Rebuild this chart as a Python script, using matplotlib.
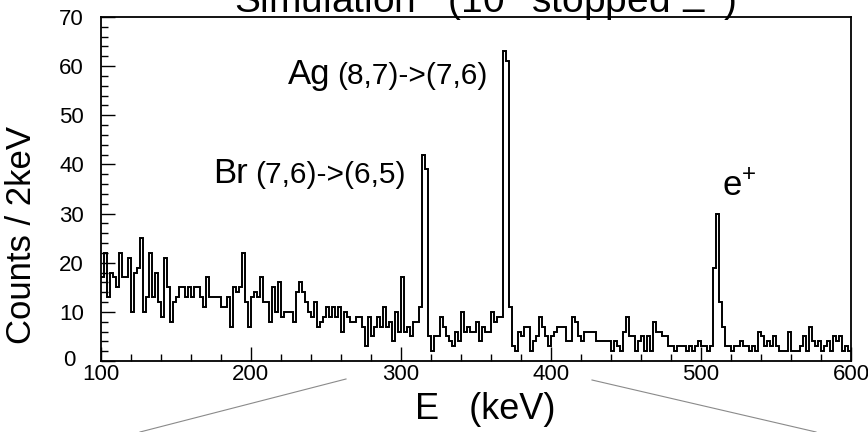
import numpy as np
import matplotlib
matplotlib.use('Agg')
import matplotlib.pyplot as plt
from matplotlib.lines import Line2D
from matplotlib.ticker import MultipleLocator
import matplotlib.transforms as mtransforms

# histogram: 2 keV bins from 100 to 600 keV
bin_lo = 100
bin_width = 2
counts = [
    17, 22, 13, 18, 17, 15, 22, 17, 17, 21,
    10, 18, 19, 25, 10, 13, 22, 13, 18, 12,
    9, 21, 15, 8, 12, 13, 15, 15, 13, 15,
    13, 15, 15, 13, 11, 17, 13, 13, 13, 13,
    11, 11, 13, 7, 15, 14, 15, 22, 12, 7,
    13, 14, 13, 17, 12, 12, 8, 15, 10, 16,
    9, 10, 10, 10, 8, 14, 16, 14, 12, 10,
    9, 12, 7, 8, 9, 11, 9, 11, 9, 11,
    6, 10, 9, 8, 8, 9, 9, 7, 3, 9,
    5, 7, 9, 7, 11, 7, 8, 4, 10, 6,
    17, 6, 7, 5, 8, 8, 11, 42, 39, 5,
    2, 5, 5, 9, 7, 5, 4, 3, 6, 4,
    10, 6, 7, 6, 6, 8, 4, 7, 6, 6,
    10, 8, 9, 9, 63, 61, 11, 3, 2, 6,
    5, 7, 7, 2, 4, 5, 9, 7, 5, 3,
    5, 6, 7, 7, 7, 4, 4, 9, 8, 5,
    4, 6, 6, 6, 6, 4, 4, 4, 4, 4,
    2, 4, 3, 2, 6, 9, 5, 5, 2, 4,
    5, 2, 5, 2, 8, 6, 6, 5, 5, 3,
    3, 2, 3, 3, 3, 2, 3, 2, 3, 4,
    3, 3, 2, 3, 19, 30, 12, 7, 3, 3,
    2, 3, 3, 4, 3, 3, 2, 3, 2, 6,
    5, 3, 4, 3, 5, 3, 2, 2, 2, 6,
    2, 2, 2, 3, 5, 2, 7, 4, 3, 4,
    2, 3, 4, 2, 5, 4, 5, 2, 3, 2,
]
edges = bin_lo + bin_width * np.arange(len(counts) + 1)

title = r'Simulation   (10$^{4}$ stopped $\Xi^{-}$)'
xlabel = 'E   (keV)'
ylabel = 'Counts / 2keV'

plt.rcParams['font.family'] = ['Liberation Sans', 'DejaVu Sans']
plt.rcParams['mathtext.fontset'] = 'custom'
plt.rcParams['mathtext.rm'] = 'Liberation Sans'
plt.rcParams['mathtext.it'] = 'Liberation Sans'

W, H = 868, 432
fig = plt.figure(figsize=(W / 100, H / 100), dpi=100)
ax = fig.add_axes([100.5 / W, 1 - 361 / H, 750.5 / W, 344 / H])

ax.stairs(counts, edges, color='black', lw=1.4, baseline=None)

ax.set_xlim(100, 600)
ax.set_ylim(0, 70)
ax.xaxis.set_major_locator(MultipleLocator(100))
ax.xaxis.set_minor_locator(MultipleLocator(20))
ax.yaxis.set_major_locator(MultipleLocator(10))
ax.yaxis.set_minor_locator(MultipleLocator(2))
ax.tick_params(which='both', direction='in', top=False, right=False, width=1.0,
               labelsize=16)
ax.tick_params(which='major', length=10)
ax.tick_params(which='minor', length=5)
ax.tick_params(axis='x', pad=2)
ax.tick_params(axis='y', pad=12)
for s in ax.spines.values():
    s.set_linewidth(1.3)

# nudge the "0" of the y axis away from the "100" below it
fig.canvas.draw()
zero_lab = ax.get_yticklabels()[0]
for lab in ax.get_yticklabels():
    if lab.get_text() == '0':
        zero_lab = lab
zero_lab.set_transform(zero_lab.get_transform() +
                       mtransforms.ScaledTranslation(-8 / 100, 3 / 100, fig.dpi_scale_trans))

ax.set_xlabel(xlabel, fontsize=26)
ax.xaxis.set_label_coords(0.513, -0.142)
ax.xaxis.label.set_va('center')
ax.set_ylabel(ylabel, fontsize=25)
ax.yaxis.set_label_coords(-0.1046, 0.366)
ax.yaxis.label.set_va('center')


# peak labels: big element name followed by smaller transition
def label(x_px, y_px, big, small):
    t = fig.text(x_px / W, 1 - y_px / H, big, fontsize=25, va='baseline', ha='left')
    fig.canvas.draw()
    bb = t.get_window_extent()
    fig.text((bb.x1 + 7) / W, 1 - y_px / H, small, fontsize=21.5, va='baseline', ha='left')


label(213, 183, 'Br', '(7,6)->(6,5)')
label(288, 84, 'Ag', '(8,7)->(7,6)')
fig.text(722 / W, 1 - 196 / H, r'e$^{+}$', fontsize=25, va='baseline', ha='left')

# title sits half outside the top edge, as in the original
fig.text(485 / W, 1 - 13 / H, title, fontsize=28, va='baseline', ha='center')

# zoom guide lines under the axis
fig.add_artist(Line2D([140 / W, 346 / W], [0, 1 - 379 / H], color='#8a8a8a', lw=0.8))
fig.add_artist(Line2D([592 / W, 816 / W], [1 - 380 / H, 0], color='#8a8a8a', lw=0.8))

fig.savefig('out.png', dpi=100)
